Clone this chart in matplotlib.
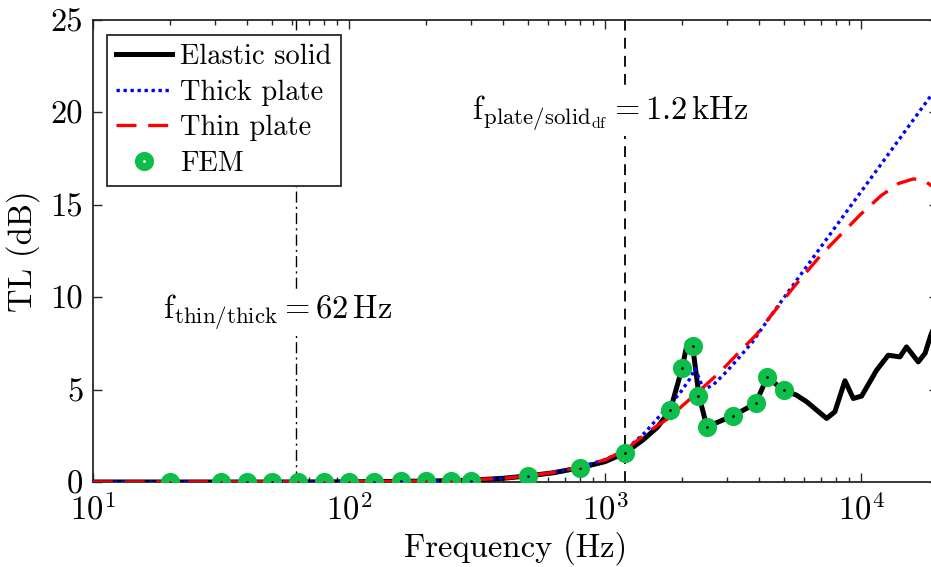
import matplotlib
matplotlib.use("Agg")
import matplotlib.pyplot as plt
import numpy as np
from matplotlib.ticker import LogLocator, FixedLocator, NullFormatter

plt.rcParams['font.family'] = 'cmr10'
plt.rcParams['mathtext.fontset'] = 'cm'
plt.rcParams['axes.unicode_minus'] = False
plt.rcParams['axes.formatter.use_mathtext'] = True

# ---------------- data ----------------
solid_f = [10, 50, 100, 200, 300, 400, 500, 630, 800, 1000, 1200, 1400, 1600, 1800,
           2000, 2100, 2200, 2330, 2500, 3150, 3880, 4300, 5000, 5600, 6140, 6700,
           7345, 7910, 8660, 9334, 10060, 11510, 12780, 14200, 15070, 16740, 17800,
           18750, 20000]
solid_tl = [0, 0, 0.01, 0.05, 0.1, 0.2, 0.33, 0.5, 0.77, 1.1, 1.58, 2.25, 2.95, 3.89,
            6.15, 7.55, 7.35, 4.67, 2.99, 3.57, 4.25, 5.66, 4.97, 4.7, 4.34, 3.9,
            3.44, 3.8, 5.48, 4.52, 4.65, 6.05, 6.86, 6.77, 7.31, 6.5, 6.96,
            7.95, 8.9]

thick_f = [10, 100, 200, 300, 400, 500, 630, 800, 1000, 1200, 1440, 1690, 1960, 2150,
           2250, 2350, 2420, 2640, 2980, 3360, 3780, 4415, 20000]
thick_tl = [0, 0.01, 0.05, 0.12, 0.2, 0.33, 0.52, 0.82, 1.2, 1.72, 2.7, 3.8, 4.8, 5.6,
            6.14, 5.5, 5.0, 5.24, 5.96, 6.77, 7.6, 8.94, 21.43]

thin_f = [10, 100, 200, 300, 400, 500, 630, 800, 1000, 1200, 1440, 1600, 1750, 1960,
          2300, 2820, 3310, 3920, 4415, 5500, 7000, 8500, 10000, 12000, 14000, 16000,
          17500, 19000, 20000]
thin_tl = [0, 0.01, 0.05, 0.12, 0.2, 0.33, 0.52, 0.82, 1.2, 1.72, 2.6, 3.05, 3.4, 4.0,
           4.85, 5.96, 6.96, 8.0, 8.94, 10.6, 12.3, 13.5, 14.5, 15.5, 16.15, 16.4,
           16.35, 16.0, 15.7]

fem_f = [20, 31.5, 40, 50, 63, 80, 100, 125, 160, 200, 250, 300, 500, 800, 1200,
         1800, 2000, 2200, 2300, 2500, 3150, 3880, 4300, 5000]
fem_tl = [0, 0, 0, 0, 0, 0, 0.01, 0.02, 0.03, 0.05, 0.07, 0.08, 0.34, 0.77, 1.58,
          3.89, 6.15, 7.35, 4.67, 2.99, 3.57, 4.25, 5.66, 4.97]

f_thin_thick = 62
f_plate_solid = 1200

labels = ['Elastic solid', 'Thick plate', 'Thin plate', 'FEM']
xticks = [10, 100, 1000, 10000]
xticklabels = [r'$10^{1}$', r'$10^{2}$', r'$10^{3}$', r'$10^{4}$']
yticks = [0, 5, 10, 15, 20, 25]

# ---------------- figure ----------------
W, H = 931, 567
fig = plt.figure(figsize=(W / 100, H / 100), dpi=100)
ax = fig.add_axes([93 / W, 85 / H, 845 / W, 462 / H])

fs = 23.5
fs_leg = 20.5
axcol = '#262626'

ax.axvline(f_thin_thick, color='k', lw=1.0, linestyle=(0, (8, 3, 1.5, 3)), zorder=1)
ax.axvline(f_plate_solid, color='k', lw=1.3, linestyle=(0, (6, 4)), zorder=1)

ax.plot(solid_f, solid_tl, color='k', lw=3.6, label=labels[0], zorder=3)
ax.plot(thick_f, thick_tl, color='#0000ff', lw=2.4, linestyle=(0, (1, 1.1)), label=labels[1], zorder=4)
ax.plot(thin_f, thin_tl, color='#ff0000', lw=2.4, linestyle=(0, (6, 3.5)), label=labels[2], zorder=5)
ax.plot(fem_f, fem_tl, linestyle='none', marker='o', ms=8, mew=5.8,
        mfc='none', mec='#0dbf4a', label=labels[3], zorder=6)

ax.set_xscale('log')
ax.set_xlim(10, 20000)
ax.set_ylim(0, 25)
ax.xaxis.set_major_locator(FixedLocator(xticks))
ax.set_xticklabels(xticklabels)
ax.xaxis.set_minor_locator(LogLocator(base=10, subs=np.arange(2, 10)))
ax.xaxis.set_minor_formatter(NullFormatter())
ax.set_yticks(yticks)
ax.set_yticklabels([str(v) for v in yticks])

ax.tick_params(which='both', direction='in', top=True, right=True, color=axcol,
               labelsize=fs, width=1.0)
ax.tick_params(which='major', length=6.5)
ax.tick_params(which='minor', length=3.5)
ax.tick_params(axis='y', pad=7)
ax.tick_params(axis='x', pad=8)
for s in ax.spines.values():
    s.set_color(axcol)
    s.set_linewidth(1.3)

ax.set_xlabel('Frequency (Hz)', fontsize=fs, labelpad=4)
ax.set_ylabel('TL (dB)', fontsize=fs, labelpad=8)

ax.text(18.8, 9.2, r'$\mathrm{f}_{\mathrm{thin/thick}} = 62\,\mathrm{Hz}$', fontsize=fs,
        ha='left', va='center', zorder=2,
        bbox=dict(facecolor='white', edgecolor='none', pad=2))
ax.text(302, 19.95, r'$\mathrm{f}_{\mathrm{plate/solid}_{\mathrm{df}}} = 1.2\,\mathrm{kHz}$',
        fontsize=fs, ha='left', va='center', zorder=2,
        bbox=dict(facecolor='white', edgecolor='none', pad=2))

leg = ax.legend(loc='upper left', bbox_to_anchor=(14 / 845, 1 - 15 / 462),
                borderaxespad=0, fontsize=fs_leg, frameon=True, fancybox=False,
                framealpha=1, edgecolor=axcol, handlelength=2.0, handletextpad=0.28,
                labelspacing=0.33, borderpad=0.3)
leg.get_frame().set_linewidth(1.3)
leg.set_zorder(10)

fig.savefig('out.png', dpi=100)
